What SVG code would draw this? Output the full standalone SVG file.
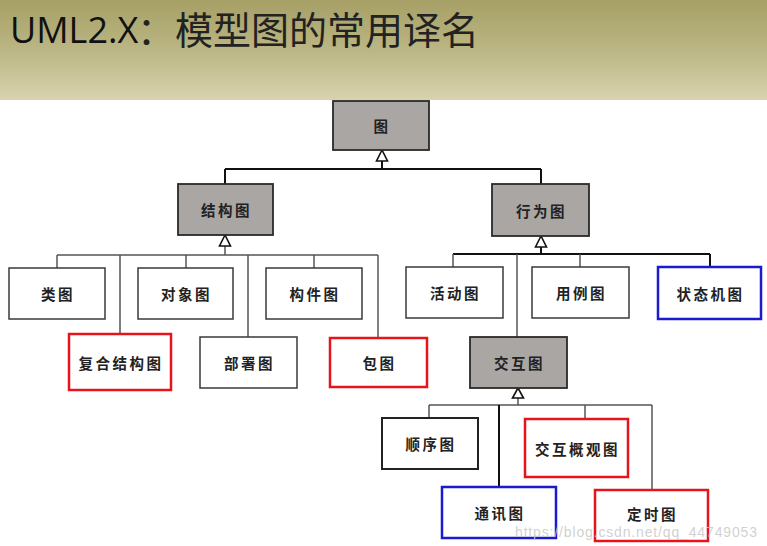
<svg xmlns="http://www.w3.org/2000/svg" width="767" height="546" viewBox="0 0 767 546">
<defs>
<linearGradient id="hdr" x1="0" y1="0" x2="0" y2="1">
<stop offset="0" stop-color="#a69f66"/>
<stop offset="0.5" stop-color="#bbb683"/>
<stop offset="1" stop-color="#d8d3ae"/>
</linearGradient>
<style>
.box{fill:#fff;stroke:#3a3a3a;stroke-width:1.5}
.gray{fill:#aaa6a3;stroke:#2a2a2a;stroke-width:1.8}
.red{fill:#fff;stroke:#e8141c;stroke-width:2.5}
.blue{fill:#fff;stroke:#1a1ad0;stroke-width:2.5}
.lbl{font-family:"Noto Sans CJK SC","Noto Sans CJK JP",sans-serif;font-size:14.5px;font-weight:700;fill:#222;text-anchor:middle;dominant-baseline:central;letter-spacing:2.5px}
.ln{fill:none;stroke:#555;stroke-width:1.5}
.lnb{fill:none;stroke:#111;stroke-width:2}
.arr{fill:#fff;stroke:#111;stroke-width:1.6}
</style>
</defs>
<rect x="0" y="0" width="767" height="546" fill="#fff"/>
<rect x="0" y="0" width="767" height="100" fill="url(#hdr)"/>
<text x="10" y="43" font-family="'Open Sans','Liberation Sans',sans-serif" font-size="36" fill="#111">UML2.X<tspan x="137" y="44" font-family="'Noto Sans CJK SC',sans-serif" font-size="38" fill="#222">：模型图的常用译名</tspan></text>

<g id="connectors">
<path class="lnb" d="M382 161V169M225 169H541M225 169V184M541 169V184"/>
<polygon class="arr" points="382,150 376.5,161 387.5,161"/>
<path class="ln" d="M225 246V255M57 255H378M57 255V268M120 255V334M186 255V268M248 255V337M314 255V268M378 255V338"/>
<polygon class="arr" points="225,235 219.5,246 230.5,246"/>
<path class="lnb" d="M541 247V254M453 254H710M710 254V267"/>
<path class="ln" d="M453 254V267M517 254V337M580 254V267"/>
<polygon class="arr" points="541,236 535.5,247 546.5,247"/>
<path class="ln" d="M518 398V405M429 405H652M429 405V418M585 405V419M652 405V490"/>
<path class="lnb" d="M499 405V487"/>
<polygon class="arr" points="518,388 512.5,398 523.5,398"/>
</g>

<g id="n-root"><rect class="gray" x="333" y="101" width="96" height="49"/><text class="lbl" x="382" y="125.5">图</text></g>
<g id="n-struct"><rect class="gray" x="178" y="184" width="95" height="51"/><text class="lbl" x="226.5" y="209.5">结构图</text></g>
<g id="n-behav"><rect class="gray" x="492" y="184" width="97" height="52"/><text class="lbl" x="541.5" y="210">行为图</text></g>
<g id="n-class"><rect class="box" x="9" y="268" width="96" height="51"/><text class="lbl" x="58" y="293.5">类图</text></g>
<g id="n-object"><rect class="box" x="138" y="268" width="95" height="51"/><text class="lbl" x="186.5" y="293.5">对象图</text></g>
<g id="n-component"><rect class="box" x="266" y="268" width="96" height="51"/><text class="lbl" x="315" y="293.5">构件图</text></g>
<g id="n-composite"><rect class="red" x="69" y="334" width="102" height="56"/><text class="lbl" x="121" y="362">复合结构图</text></g>
<g id="n-deploy"><rect class="box" x="200" y="337" width="97" height="51"/><text class="lbl" x="249.5" y="362.5">部署图</text></g>
<g id="n-package"><rect class="red" x="330" y="338" width="97" height="49"/><text class="lbl" x="379.5" y="362.5">包图</text></g>
<g id="n-activity"><rect class="box" x="406" y="267" width="97" height="51"/><text class="lbl" x="455.5" y="292.5">活动图</text></g>
<g id="n-usecase"><rect class="box" x="532" y="267" width="97" height="51"/><text class="lbl" x="581.5" y="292.5">用例图</text></g>
<g id="n-state"><rect class="blue" x="658" y="267" width="103" height="52"/><text class="lbl" x="710.5" y="293">状态机图</text></g>
<g id="n-interact"><rect class="gray" x="470" y="337" width="97" height="51"/><text class="lbl" x="519.5" y="362.5">交互图</text></g>
<g id="n-seq"><rect class="box" x="382" y="418" width="96" height="51" style="stroke:#222;stroke-width:2"/><text class="lbl" x="431" y="443.5">顺序图</text></g>
<g id="n-overview"><rect class="red" x="525" y="419" width="103" height="58"/><text class="lbl" x="577.5" y="448">交互概观图</text></g>
<g id="n-comm"><rect class="blue" x="442" y="487" width="114" height="51"/><text class="lbl" x="500" y="512.5">通讯图</text></g>
<g id="n-timing"><rect class="red" x="595" y="490" width="113" height="51"/><text class="lbl" x="652.5" y="513">定时图</text></g>

<text x="515" y="537" font-family="'Liberation Sans',sans-serif" font-size="14" fill="#c8c8c8" fill-opacity="0.85" textLength="242">https://blog.csdn.net/qq_44749053</text>
</svg>
